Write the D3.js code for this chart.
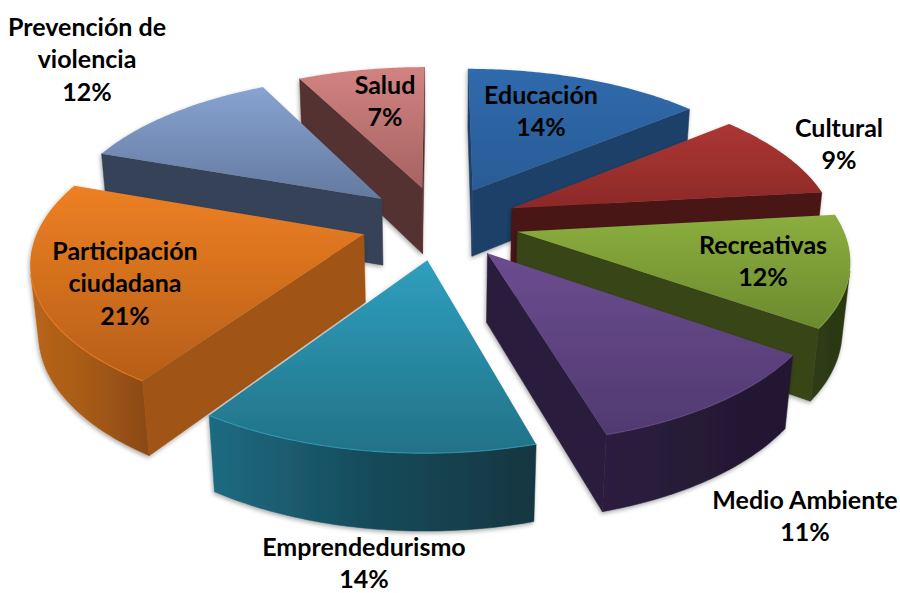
<!DOCTYPE html>
<html><head><meta charset="utf-8">
<script src="https://cdnjs.cloudflare.com/ajax/libs/d3/7.8.5/d3.min.js"></script>
<style>html,body{margin:0;padding:0;background:#fff;overflow:hidden}</style>
</head><body><div id="chart"></div>
<script>
const categories = ["Educación","Cultural","Recreativas","Medio Ambiente","Emprendedurismo","Participación ciudadana","Prevención de violencia","Salud"];
const values = [14.0,9.2,11.6,10.7,13.9,21.0,12.11,7.49];
const labelLines = [["Educación"],["Cultural"],["Recreativas"],["Medio Ambiente"],["Emprendedurismo"],["Participación","ciudadana"],["Prevención de","violencia"],["Salud"]];
const labelX = [541,839,763,805,364,125,87,385];
const labelY = [95,128,245,500,547,251,27,85];
const topLight = ["#2f6aad","#ac3634","#8bae3e","#6c4c90","#2f9fbe","#ee8023","#88a3d2","#d28381"];
const topDark  = ["#2a5c96","#8c2a27","#6b8a2e","#503970","#227287","#b65e18","#637a9f","#a56362"];
const wallCol  = ["#1e3f68","#4a1313","#374517","#2c1d3d","#1c5a6d","#a05413","#364258","#553232"];
const rimLeft  = ["#1e3f68","#4a1313","#2f3c14","#2d1f40","#1f6b81","#b8651b","#364258","#553232"];
const rimMid   = ["#1e3f68","#4a1313","#2c3912","#261a36","#164a5a","#a65a15","#364258","#553232"];
const rimRight = ["#1e3f68","#4a1313","#2a3611","#221730","#123640","#8a4912","#364258","#553232"];
const paintOrder = [7,6,0,1,5,2,3,4];

const W=900,H=593, cx=440, cy=222.5, explode=0.245, height=0.24;
const elev=Math.asin(0.463), camD=5.68, F=1837;
const se=Math.sin(elev), ce=Math.cos(elev);
const project=(X,Y,Z)=>{const w=camD+Y*ce-Z*se; return [cx+F*X/w, cy-F*(Y*se+Z*ce)/w];};
const cam=[0,-camD*ce,camD*se];

const svg=d3.select("#chart").append("svg").attr("width",W).attr("height",H).style("display","block");
const defs=svg.append("defs");
const sh=defs.append("filter").attr("id","shadow").attr("x","-10%").attr("y","-10%").attr("width","120%").attr("height","125%");
sh.append("feDropShadow").attr("dx",-1).attr("dy",2).attr("stdDeviation",2).attr("flood-color","#000").attr("flood-opacity",0.33);

const pie=d3.pie().sort(null).value(d=>d).startAngle(0).endAngle(2*Math.PI);
const arcs=pie(values);
const line=d3.line();

paintOrder.forEach(i=>{
  const a=arcs[i], mid=(a.startAngle+a.endAngle)/2;
  const ox=explode*Math.sin(mid), oy=explode*Math.cos(mid);
  const world=(t,r)=>[ox+r*Math.sin(t), oy+r*Math.cos(t)];
  const P=(t,r,z)=>{const [x,y]=world(t,r); return project(x,y,z);};
  const thetas=d3.range(0,61).map(k=>a.startAngle+(a.endAngle-a.startAngle)*k/60);

  const g=svg.append("g").attr("filter","url(#shadow)");
  const gt=defs.append("linearGradient").attr("id","t"+i).attr("x1",0).attr("y1",0).attr("x2",0).attr("y2",1);
  gt.append("stop").attr("offset",0).attr("stop-color",topLight[i]);
  gt.append("stop").attr("offset",1).attr("stop-color",topDark[i]);
  const gr=defs.append("linearGradient").attr("id","r"+i).attr("x1",0).attr("y1",0).attr("x2",1).attr("y2",0);
  gr.append("stop").attr("offset",0).attr("stop-color",rimLeft[i]);
  gr.append("stop").attr("offset",0.5).attr("stop-color",rimMid[i]);
  gr.append("stop").attr("offset",1).attr("stop-color",rimRight[i]);

  const vis=thetas.filter(t=>{const [x,y]=world(t,1);
    return Math.sin(t)*(cam[0]-x)+Math.cos(t)*(cam[1]-y)>0;});
  if(vis.length>1){
    const pts=vis.map(t=>P(t,1,0)).concat(vis.slice().reverse().map(t=>P(t,1,-height)));
    g.append("path").attr("d",line(pts)+"Z").attr("fill",`url(#r${i})`).attr("stroke",`url(#r${i})`).attr("stroke-width",0.5);
  }
  [[a.startAngle,-1],[a.endAngle,1]].forEach(([t,s])=>{
    const nx=s*Math.cos(t), ny=-s*Math.sin(t);
    if(nx*(cam[0]-ox)+ny*(cam[1]-oy)>0){
      const pts=[P(t,0,0),P(t,1,0),P(t,1,-height),P(t,0,-height)];
      g.append("path").attr("d",line(pts)+"Z").attr("fill",wallCol[i]).attr("stroke",wallCol[i]).attr("stroke-width",0.5);
    }
  });
  const topPts=[P(0,0,0)].concat(thetas.map(t=>P(t,1,0)));
  g.append("path").attr("d",line(topPts)+"Z").attr("fill",`url(#t${i})`);
  if(vis.length>1) g.append("path").attr("d",line(vis.map(t=>P(t,1,0)))).attr("fill","none")
    .attr("stroke",topLight[i]).attr("stroke-width",1.2).attr("stroke-opacity",0.7);
});

const fs=25, lh=32.6;
values.forEach((v,i)=>{
  const lines=labelLines[i].concat([Math.round(v)+"%"]);
  lines.forEach((s,k)=>{
    svg.append("text").attr("x",labelX[i]).attr("y",labelY[i]+k*lh).attr("dy","0.35em")
      .attr("text-anchor","middle").attr("font-family","Lato, sans-serif").attr("font-weight",700)
      .attr("font-size",fs).attr("fill","#000").text(s);
  });
});
</script></body></html>
